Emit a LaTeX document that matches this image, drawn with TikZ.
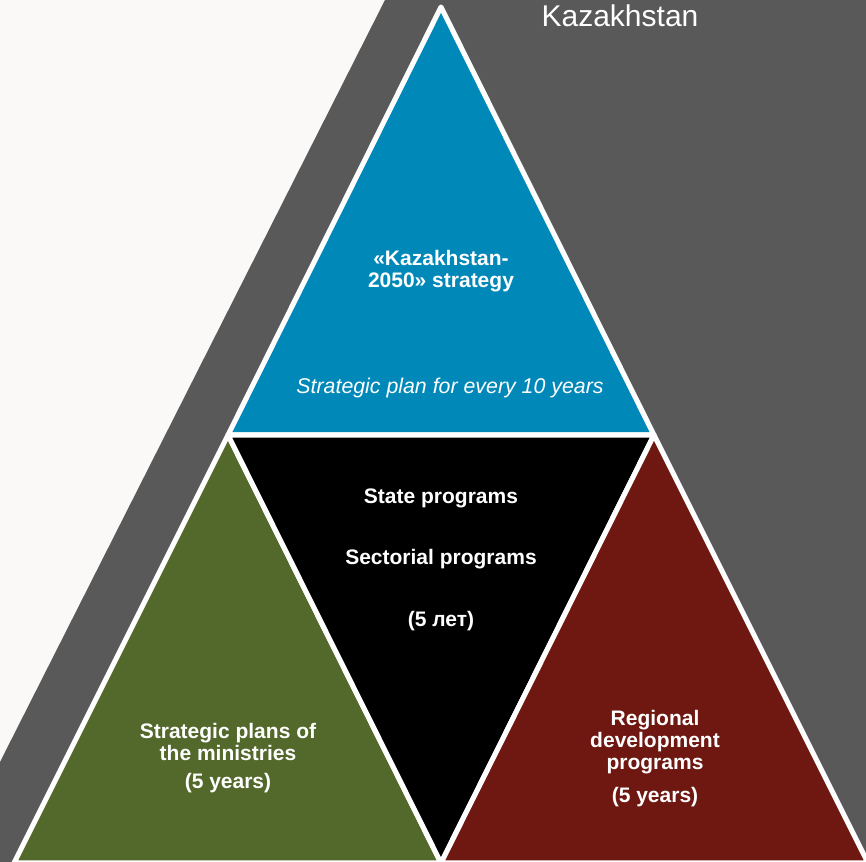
\documentclass[tikz,border=0pt]{standalone}
\usepackage{fontspec}
\setmainfont{Liberation Sans}
\definecolor{bgc}{HTML}{FAF9F7}
\definecolor{greyc}{HTML}{595959}
\definecolor{bluec}{HTML}{0088B9}
\definecolor{greenc}{HTML}{53682B}
\definecolor{redc}{HTML}{6E1811}
\tikzset{
  tri/.style={draw=white, line width=3.8pt, line join=round},
  lbl/.style={text=white, font=\bfseries\fontsize{15.75}{16.5}\selectfont, align=center, inner sep=0pt},
}
\begin{document}
\begin{tikzpicture}[x=0.75pt, y=-0.75pt]
\useasboundingbox (0,0) rectangle (866,862);
\clip (0,0) rectangle (866,862);
\fill[bgc] (0,0) rectangle (866,862);
\fill[greyc] (385,0) -- (866,0) -- (866,862) -- (0,862) -- (0,762) -- cycle;
\coordinate (A) at (441,7);
\coordinate (L) at (228,435);
\coordinate (R) at (654,435);
\coordinate (BL) at (14,863);
\coordinate (M) at (441,863);
\coordinate (BR) at (868,863);
\filldraw[tri, fill=bluec] (A) -- (L) -- (R) -- cycle;
\filldraw[tri, fill=greenc] (L) -- (BL) -- (M) -- cycle;
\filldraw[tri, fill=black] (L) -- (R) -- (M) -- cycle;
\filldraw[tri, fill=redc] (R) -- (M) -- (BR) -- cycle;
\node[text=white, font=\fontsize{22.5}{24}\selectfont, inner sep=0pt] (title) at (620,16) {Kazakhstan};
\node[lbl] (blue1) at (441,271) {«Kazakhstan-\\2050» strategy};
\node[text=white, font=\itshape\fontsize{16}{18}\selectfont, inner sep=0pt] (blue2) at (450,388) {Strategic plan for every 10 years};
\node[lbl] (black1) at (441,498) {State programs};
\node[lbl] (black2) at (441,559) {Sectorial programs};
\node[lbl] (black3) at (441,621) {(5 лет)};
\node[lbl] (green1) at (228,742) {Strategic plans of\\the ministries};
\node[lbl] (green2) at (228,783) {(5 years)};
\node[lbl] (red1) at (655,742) {Regional\\development\\programs};
\node[lbl] (red2) at (655,797) {(5 years)};
\end{tikzpicture}
\end{document}
